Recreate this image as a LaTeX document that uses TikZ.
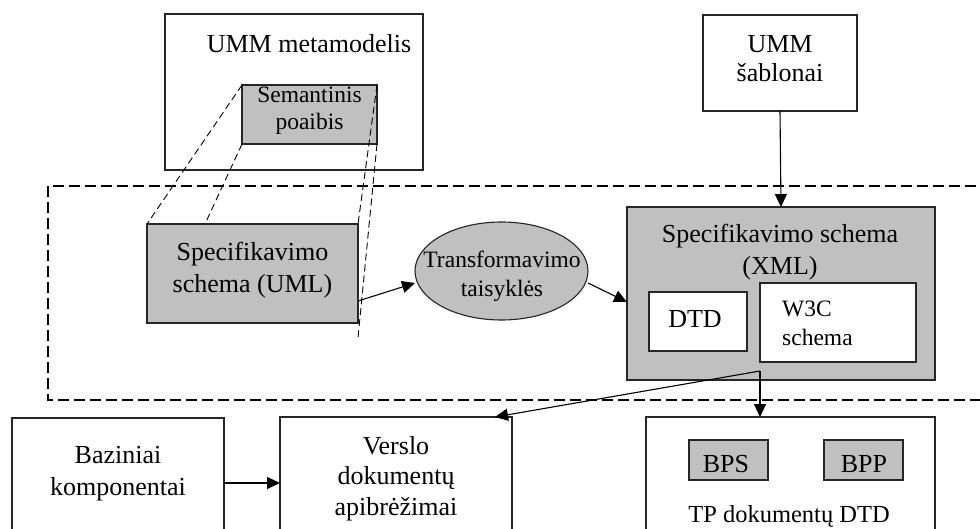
\documentclass[tikz,border=0pt]{standalone}
\usepackage{fontspec}
\setmainfont{Liberation Serif}
\usetikzlibrary{arrows.meta,shapes.geometric}
\definecolor{boxgrey}{HTML}{C0C0C0}
\tikzset{
  box/.style={draw=black!85, line width=1.1pt, inner sep=0pt, outer sep=0pt},
  greybox/.style={box, fill=boxgrey},
  whitebox/.style={box, fill=white},
  big/.style={inner sep=0pt, anchor=base, font=\fontsize{26}{30}\selectfont},
  small/.style={inner sep=0pt, anchor=base, font=\fontsize{23.5}{28}\selectfont},
  arrow/.style={line width=1.1pt, -{Triangle[length=13pt,width=12pt]}},
  frame/.style={line width=2pt, dash pattern=on 11pt off 5pt},
  proj/.style={line width=0.9pt, dash pattern=on 7pt off 4pt},
}
\begin{document}
\begin{tikzpicture}[x=1pt, y=-1pt]
\useasboundingbox (0,0) rectangle (980,529);
\clip (0,0) rectangle (980,529);

% top boxes
\node[whitebox, minimum width=258pt, minimum height=156pt] (meta) at (294,92) {};
\node[big] (metaT) at (309,53) {UMM metamodelis};
\node[greybox, minimum width=135pt, minimum height=59pt] (sem) at (309.5,114.5) {};
\node[small] (semA) at (309.5,103) {Semantinis};
\node[small] (semB) at (309.5,130) {poaibis};

\node[whitebox, minimum width=154pt, minimum height=96pt] (sabl) at (780,63) {};
\node[big] (sablA) at (780,53) {UMM};
\node[big] (sablB) at (780,82) {šablonai};

% dashed frame around the transformation stage
\coordinate (fA) at (48,186);
\coordinate (fB) at (1010,400);
\draw[frame] (fA) rectangle (fB);

% UML specification
\node[greybox, minimum width=211pt, minimum height=99pt] (uml) at (252.5,273.5) {};
\node[big] (umlA) at (252.5,261) {Specifikavimo};
\node[big] (umlB) at (252.5,293) {schema (UML)};

% projection of the semantic subset onto the UML specification
\coordinate (pTR) at (358,224);
\coordinate (pBL) at (205,224);
\coordinate (pBR) at (358,338);
\draw[proj] (sem.north west) -- (uml.north west);
\draw[proj] (sem.south west) -- (pBL);
\draw[proj] (sem.north east) -- (pTR);
\draw[proj] (sem.south east) -- (pBR);

% transformation rules
\node[ellipse, draw=black!85, line width=1.1pt, fill=boxgrey, minimum width=173pt, minimum height=98pt, inner sep=0pt] (rules) at (501.5,271) {};
\node[small] (rulesA) at (502,268) {Transformavimo};
\node[small] (rulesB) at (502,297) {taisyklės};

% XML specification
\node[greybox, minimum width=308pt, minimum height=173pt] (xml) at (781,293.5) {};
\node[big] (xmlA) at (780,243) {Specifikavimo schema};
\node[big] (xmlB) at (780,275) {(XML)};
\node[whitebox, minimum width=98pt, minimum height=59pt] (dtd) at (698,321.5) {};
\node[big] (dtdT) at (695,328) {DTD};
\node[whitebox, minimum width=156pt, minimum height=79pt] (w3c) at (838,322.5) {};
\node[small, anchor=base west] (w3cA) at (782,317) {W3C};
\node[small, anchor=base west] (w3cB) at (782,345) {schema};

% bottom boxes
\node[whitebox, minimum width=212pt, minimum height=142pt] (baz) at (118,489) {};
\node[big] (bazA) at (118,463) {Baziniai};
\node[big] (bazB) at (118,495) {komponentai};

\node[whitebox, minimum width=232pt, minimum height=143pt] (verslo) at (396,488.5) {};
\node[big] (versloA) at (396,454) {Verslo};
\node[big] (versloB) at (396,484) {dokumentų};
\node[big] (versloC) at (396,515) {apibrėžimai};

\node[whitebox, minimum width=289pt, minimum height=143pt] (tp) at (790.5,488.5) {};
\node[greybox, minimum width=79pt, minimum height=40pt] (bps) at (728.5,460) {};
\node[big] (bpsT) at (726,472) {BPS};
\node[greybox, minimum width=79pt, minimum height=40pt] (bpp) at (863.5,460) {};
\node[big] (bppT) at (864,472) {BPP};
\node[small, font=\fontsize{24.5}{28}\selectfont] (tpT) at (789,522) {TP dokumentų DTD};

% connectors
\coordinate (umlOut) at (358,301);
\coordinate (rulesIn) at (415,283);
\coordinate (rulesOut) at (588,283);
\coordinate (xmlIn) at (627,302);
\coordinate (split) at (760,371);
\coordinate (versloIn) at (495,417);
\coordinate (tpIn) at (760,417);
\draw[arrow] (umlOut) -- (rulesIn);
\draw[arrow] (rulesOut) -- (xmlIn);
\draw[arrow] (sabl.south) -- (xml.north);
\draw[arrow] (split) -- (versloIn);
\draw[arrow] (split) -- (tpIn);
\draw[arrow] (baz.east |- 0,483) -- (verslo.west |- 0,483);
\end{tikzpicture}
\end{document}
